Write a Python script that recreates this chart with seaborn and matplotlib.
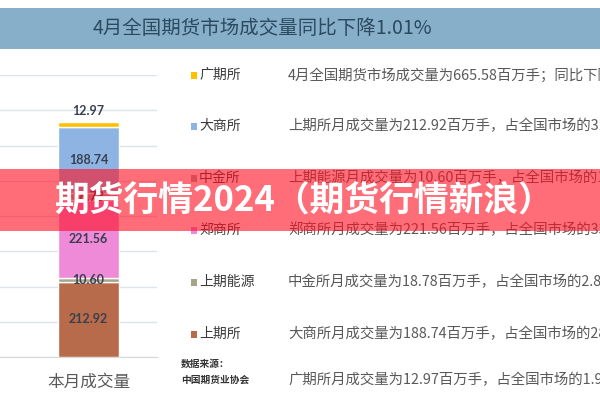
import matplotlib
matplotlib.use("Agg")
import matplotlib.pyplot as plt
from matplotlib.patches import Rectangle
import seaborn as sns
import pandas as pd

# ---- data ----
category = ["本月成交量"]
exchanges = ["上期所", "上期能源", "郑商所", "中金所", "大商所", "广期所"]  # bottom -> top
volumes = [212.92, 10.60, 221.56, 18.78, 188.74, 12.97]
colors = ["#B86B4B", "#A6A48A", "#EF8AD9", "#A6A6A6", "#8EB4E3", "#FFC000"]
legend_order = ["广期所", "大商所", "中金所", "郑商所", "上期能源", "上期所"]
notes = [
    "4月全国期货市场成交量为665.58百万手；同比下降1.01%",
    "上期所月成交量为212.92百万手，占全国市场的31.99%",
    "上期能源月成交量为10.60百万手，占全国市场的1.59%",
    "郑商所月成交量为221.56百万手，占全国市场的33.29%",
    "中金所月成交量为18.78百万手，占全国市场的2.82%",
    "大商所月成交量为188.74百万手，占全国市场的28.36%",
    "广期所月成交量为12.97百万手，占全国市场的1.95%",
]
title = "4月全国期货市场成交量同比下降1.01%"
banner = "期货行情2024（期货行情新浪）"
source = ["数据来源：", "中国期货业协会"]

sns.set_style("white")
plt.rcParams["font.family"] = ["Noto Sans CJK SC", "DejaVu Sans"]

W, H = 600, 400
fig = plt.figure(figsize=(6, 4), dpi=100)
fig.patch.set_facecolor("white")

def fx(x):
    return x / W

def fy(y):
    return 1 - y / H

# ---- axes with stacked bar ----
ax = fig.add_axes([0, fy(357), fx(157), (357 - 75) / H])
df = pd.DataFrame({"cat": category * len(exchanges), "ex": exchanges, "v": volumes})
bottom = 0.0
for ex, v, c in zip(exchanges, volumes, colors):
    sns.barplot(data=df[df["ex"] == ex], x="cat", y="v", color=c, width=0.438,
                bottom=bottom, ax=ax, saturation=1, label=ex, zorder=3)
    bottom += v

acc = 0.0
for i, v in enumerate(volumes):
    if i == len(volumes) - 1:
        ax.annotate(f"{v:.2f}", (0, acc + v), xytext=(0, 8), textcoords="offset points",
                    ha="center", va="center", fontsize=9, fontweight="bold",
                    color="#3A3F4E", family=["Lato", "DejaVu Sans"], zorder=5)
    else:
        ax.text(0, acc + v / 2, f"{v:.2f}", ha="center", va="center", fontsize=9,
                fontweight="bold", color="#3A3F4E", family=["Lato", "DejaVu Sans"], zorder=5)
    acc += v

ax.set_ylim(0, 800)
ax.set_xlim(-0.646, 0.5)
ax.set_yticks(range(0, 801, 100))
ax.set_yticklabels([])
ax.yaxis.grid(True, color="#DDE3EA", lw=1, zorder=0)
ax.xaxis.grid(False)
ax.set_xlabel("")
ax.set_ylabel("")
for s in ["left", "right", "top"]:
    ax.spines[s].set_visible(False)
ax.spines["bottom"].set_color("#D9D9D9")
ax.tick_params(axis="y", length=0)
ax.set_xticks([0])
ax.set_xticklabels(category)
ax.set_xticks([-0.5, 0.5], minor=True)
ax.tick_params(axis="x", which="major", length=0, pad=12, labelsize=12, labelcolor="#595959")
ax.tick_params(axis="x", which="minor", length=4, color="#D9D9D9", direction="out")
if ax.get_legend() is not None:
    ax.get_legend().remove()

# ---- title bar ----
fig.add_artist(Rectangle((0, fy(49)), 1, 41 / H, transform=fig.transFigure,
                         facecolor="#87AFCA", edgecolor="none", zorder=1))
fig.text(fx(262), fy(28), title, ha="center", va="center", fontsize=14,
         color="#2B4A60", zorder=2)

# ---- legend + notes ----
color_of = dict(zip(exchanges, colors))
row_y = [75, 126, 178, 230, 282, 334]
for name, y in zip(legend_order, row_y):
    fig.add_artist(Rectangle((fx(190.5), fy(y + 3.5)), 6.5 / W, 7 / H,
                             transform=fig.transFigure, facecolor=color_of[name],
                             edgecolor="none", zorder=3))
    fig.text(fx(199), fy(y), name, ha="left", va="center", fontsize=10,
             color="#3A3A3A", zorder=3)

note_y = [75, 126, 178, 230, 282, 334, 380]
for t, y in zip(notes, note_y):
    fig.text(fx(288), fy(y), t, ha="left", va="center", fontsize=10.4,
             color="#595959", zorder=3)

fig.text(fx(181), fy(364), source[0], ha="left", va="center", fontsize=7,
         color="#333333", fontweight="bold", zorder=3)
fig.text(fx(181), fy(380), source[1], ha="left", va="center", fontsize=7,
         color="#333333", fontweight="bold", zorder=3)

# ---- overlay banner ----
fig.add_artist(Rectangle((0, fy(231)), 1, 62 / H, transform=fig.transFigure,
                         facecolor=(1.0, 0.05, 0.12), alpha=0.6, edgecolor="none", zorder=10))
fig.text(fx(304), fy(200), banner, ha="center", va="center", fontsize=25,
         fontweight="bold", color="white", zorder=11)

fig.savefig("out.png", dpi=100)
